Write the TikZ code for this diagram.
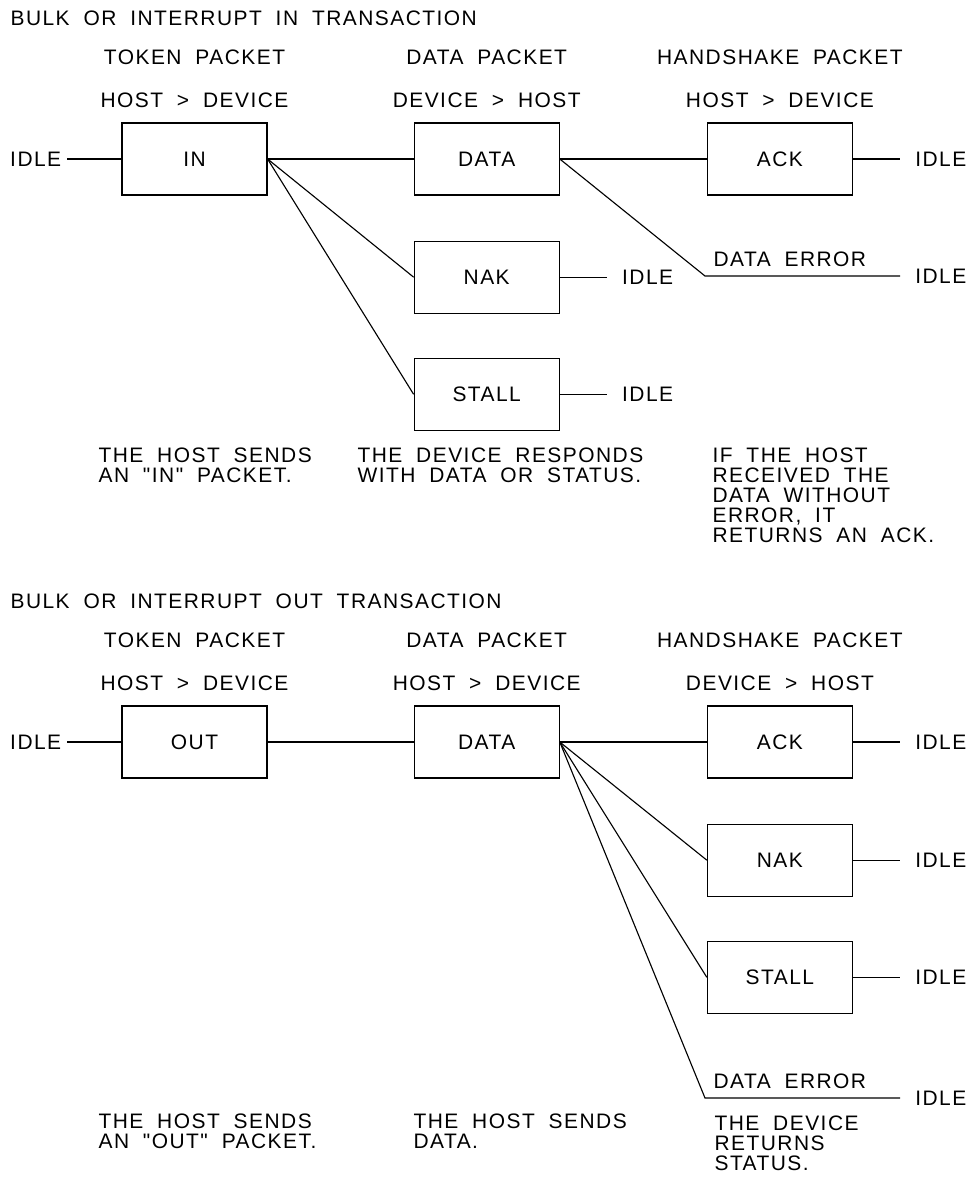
\documentclass[tikz,border=0pt]{standalone}
\usepackage{fontspec}
\setmainfont{Liberation Sans}[LetterSpace=7,WordSpace=1.9,Ligatures=TeXOff]
\usetikzlibrary{positioning}

\begin{document}
\begin{tikzpicture}[x=0.025cm,y=-0.025cm,line width=0.8pt,
    every node/.style={font=\fontsize{14.9pt}{14.2pt}\selectfont}]
    \tikzstyle{packet}=[draw,minimum width=3.625cm,minimum height=1.8cm,inner sep=0pt]
    \tikzstyle{idle}=[anchor=west,inner xsep=10.5pt,inner ysep=0pt]
    \tikzstyle{annot}=[inner sep=0pt]
    \tikzstyle{note}=[anchor=north west,align=left,inner sep=0pt]

    \useasboundingbox (0,0) rectangle (975,1178);

    % IN transaction: the packets
    \node[annot,anchor=base west] (TitleIn) at (10,25) {BULK OR INTERRUPT IN TRANSACTION};
    \node[packet] (IN) at (194.5,159) {IN};
    \node[packet,right=3.65cm of IN] (DATA) {DATA};
    \node[packet,right=3.675cm of DATA] (ACK) {ACK};
    \node[packet,below=1.125cm of DATA] (NAK) {NAK};
    \node[packet,below=1.1cm of NAK] (STALL) {STALL};

    % Annotate the phases
    \node[annot,above=0.35cm of IN] (DirIn) {HOST > DEVICE};
    \node[annot,above=0.35cm of DATA] (DirData) {DEVICE > HOST};
    \node[annot,above=0.35cm of ACK] (DirAck) {HOST > DEVICE};
    \node[annot,above=0.675cm of DirIn] (PhIn) {TOKEN PACKET};
    \node[annot,above=0.675cm of DirData] (PhData) {DATA PACKET};
    \node[annot,above=0.675cm of DirAck] (PhAck) {HANDSHAKE PACKET};

    % Idle states
    \node[idle,anchor=east,inner xsep=4pt,left=1.35cm of IN] (I-IN) {IDLE};
    \node[idle,right=1.175cm of ACK] (I-ACK) {IDLE};
    \node[idle,right=1.175cm of NAK] (I-NAK) {IDLE};
    \node[idle,right=1.175cm of STALL] (I-STALL) {IDLE};
    \coordinate (E) at (705,276);
    \node[idle] (I-ERR) at (I-ACK.west |- E) {IDLE};
    \node[annot,above right=0.225cm and 0.2cm of E] (Err) {DATA ERROR};

    % Connect the packets
    \draw (I-IN) -- (IN);
    \foreach \dest in {DATA,NAK,STALL}
        \draw (IN.east) -- (\dest.west);
    \draw (DATA) -- (ACK);
    \draw (DATA.east) -- (E) -- (I-ERR.west);
    \foreach \name in {ACK,NAK,STALL}
        \draw (\name) -- (I-\name);

    % Notes
    \node[note] (NoteIn) at (98,447) {THE HOST SENDS\\AN "IN" PACKET.};
    \node[note] (NoteData) at (357,447) {THE DEVICE RESPONDS\\WITH DATA OR STATUS.};
    \node[note] (NoteAck) at (712,447) {IF THE HOST\\RECEIVED THE\\DATA WITHOUT\\ERROR, IT\\RETURNS AN ACK.};

    % OUT transaction: the packets
    \node[annot,anchor=base west] (TitleOut) at (10,608) {BULK OR INTERRUPT OUT TRANSACTION};
    \node[packet] (OUT) at (194.5,742) {OUT};
    \node[packet,right=3.65cm of OUT] (DATA2) {DATA};
    \node[packet,right=3.675cm of DATA2] (ACK2) {ACK};
    \node[packet,below=1.125cm of ACK2] (NAK2) {NAK};
    \node[packet,below=1.1cm of NAK2] (STALL2) {STALL};

    % Annotate the phases
    \node[annot,above=0.35cm of OUT] (DirOut) {HOST > DEVICE};
    \node[annot,above=0.35cm of DATA2] (DirData2) {HOST > DEVICE};
    \node[annot,above=0.35cm of ACK2] (DirAck2) {DEVICE > HOST};
    \node[annot,above=0.675cm of DirOut] (PhOut) {TOKEN PACKET};
    \node[annot,above=0.675cm of DirData2] (PhData2) {DATA PACKET};
    \node[annot,above=0.675cm of DirAck2] (PhAck2) {HANDSHAKE PACKET};

    % Idle states
    \node[idle,anchor=east,inner xsep=4pt,left=1.35cm of OUT] (I-OUT) {IDLE};
    \node[idle,right=1.175cm of ACK2] (I-ACK2) {IDLE};
    \node[idle,right=1.175cm of NAK2] (I-NAK2) {IDLE};
    \node[idle,right=1.175cm of STALL2] (I-STALL2) {IDLE};
    \coordinate (E2) at (705,1098);
    \node[idle] (I-ERR2) at (I-ACK2.west |- E2) {IDLE};
    \node[annot,above right=0.225cm and 0.2cm of E2] (Err2) {DATA ERROR};

    % Connect the packets
    \draw (I-OUT) -- (OUT);
    \draw (OUT) -- (DATA2);
    \foreach \dest in {ACK2,NAK2,STALL2}
        \draw (DATA2.east) -- (\dest.west);
    \draw (DATA2.east) -- (E2) -- (I-ERR2.west);
    \foreach \name in {ACK2,NAK2,STALL2}
        \draw (\name) -- (I-\name);

    % Notes
    \node[note] (NoteOut) at (98,1113) {THE HOST SENDS\\AN "OUT" PACKET.};
    \node[note] (NoteData2) at (413,1113) {THE HOST SENDS\\DATA.};
    \node[note] (NoteAck2) at (714,1115) {THE DEVICE\\RETURNS\\STATUS.};
\end{tikzpicture}
\end{document}
